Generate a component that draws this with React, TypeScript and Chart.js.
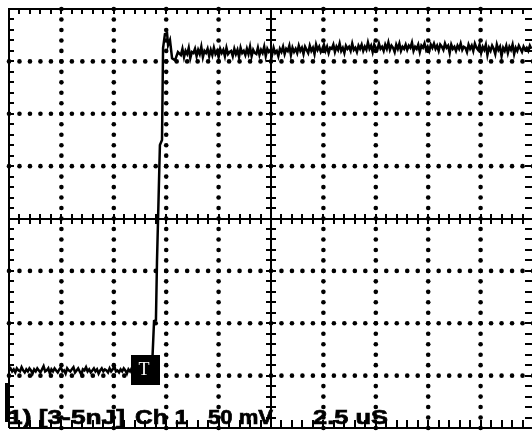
import React, { useEffect, useRef } from "react";
import { Chart, registerables } from "chart.js";

Chart.register(...registerables);

// ---- axis setup (oscilloscope: 2.5 uS/div, 50 mV/div) ----
const X_MIN_US = 0;
const X_MAX_US = 25;
const X_DIV_US = 2.5;
const Y_MIN_MV = -200;
const Y_MAX_MV = 200;
const Y_DIV_MV = 50;
const MINOR_PER_DIV = 5;

// ---- trace data ----
const sampleStepUs = 0.075;
const baselineStartUs = 0;
const baselineMv = [
  -145, -143, -146, -144, -147, -143, -145, -146, -142, -145, -147, -144, -146, -143, -145, -148, -144, -146,
  -143, -145, -147, -144, -141, -146, -145, -143, -148, -144, -146, -143, -145, -147, -144, -142, -146, -145,
  -148, -143, -145, -146, -144, -142, -147, -145, -143, -146, -149, -144, -145, -142, -146, -144, -147, -145,
  -143, -146, -144, -148, -145, -143, -146, -144, -145, -147, -143, -146, -144, -141, -146, -145, -147, -144,
  -146, -143, -145, -148, -144, -146, -143, -145, -147, -144, -145, -146, -144, -147, -145, -143, -146, -145, -144,
];
const edgeTimesUs = [6.82, 6.92, 7.01, 7.06, 7.2, 7.3, 7.35, 7.44, 7.54, 7.59, 7.68, 7.78, 7.92, 8.06];
const edgeMv = [-144.6, -97.8, -96.9, -41.5, 70.1, 74.9, 162.7, 176, 177, 165.5, 170.3, 153, 151, 158.9];
const plateauStartUs = 8.2;
const plateauMv = [
  156, 162, 154, 160, 157, 163, 153, 159, 158, 162, 155, 161, 157, 164, 154, 160,
  158, 162, 155, 161, 156, 163, 157, 160, 154, 162, 158, 161, 155, 163, 157, 159,
  160, 155, 162, 157, 161, 154, 163, 158, 160, 156, 162, 157, 164, 155, 161, 158,
  157, 163, 156, 161, 158, 164, 155, 162, 159, 161, 156, 163, 158, 160, 155, 162,
  159, 164, 157, 162, 160, 165, 156, 163, 159, 162, 158, 165, 160, 163, 157, 164,
  161, 158, 165, 160, 163, 157, 166, 161, 164, 159, 162, 166, 160, 164, 158, 163,
  162, 166, 159, 164, 161, 167, 160, 163, 158, 165, 162, 164, 160, 167, 161, 163,
  159, 165, 162, 166, 160, 164, 161, 168, 162, 165, 159, 166, 163, 161, 167, 162,
  164, 160, 166, 162, 168, 161, 165, 163, 159, 166, 162, 167, 160, 164, 162, 166,
  161, 165, 163, 168, 160, 164, 162, 166, 159, 165, 163, 167, 161, 164, 160, 166,
  163, 167, 162, 165, 160, 166, 164, 161, 167, 163, 165, 158, 166, 162, 164, 160,
  165, 162, 167, 161, 164, 163, 159, 166, 162, 165, 160, 167, 163, 161, 166, 158,
  164, 161, 166, 156, 163, 160, 165, 162, 157, 166, 161, 164, 155, 163, 160, 165,
  158, 164, 161, 166, 157, 163, 160, 165, 162, 159, 164, 161, 163, 160, 165, 162,
];

// ---- markers & labels ----
const triggerUs = 6.49;
const triggerMv = -145;
const groundMarkerMv = [-157, -194];
const labelParts = ["1) [3-5nJ]", "Ch 1", "50 mV", "2.5 uS"];
// layout of the label parts: [left px, width px]
const labelLayout = [
  [8, 117],
  [135, 53],
  [208, 65],
  [313, 75],
];

function buildTrace() {
  const pts: { x: number; y: number }[] = [];
  baselineMv.forEach((v, i) => pts.push({ x: baselineStartUs + i * sampleStepUs, y: v }));
  edgeTimesUs.forEach((t, i) => pts.push({ x: t, y: edgeMv[i] }));
  plateauMv.forEach((v, i) => pts.push({ x: plateauStartUs + i * sampleStepUs, y: v }));
  return pts;
}

const near = (a: number, b: number) => Math.abs(a - b) < 1e-6;

const graticule = {
  id: "graticule",
  beforeDatasetsDraw(chart: any) {
    const { ctx, chartArea: a, scales } = chart;
    const xs = scales.x;
    const ys = scales.y;
    const L = Math.round(a.left);
    const R = Math.round(a.right);
    const T = Math.round(a.top);
    const B = Math.round(a.bottom);
    const xMid = (X_MIN_US + X_MAX_US) / 2;
    const xc = Math.round(xs.getPixelForValue(xMid));
    const yc = Math.round(ys.getPixelForValue(0));
    const nx = ((X_MAX_US - X_MIN_US) / X_DIV_US) * MINOR_PER_DIV;
    const ny = ((Y_MAX_MV - Y_MIN_MV) / Y_DIV_MV) * MINOR_PER_DIV;
    const minorX: number[] = [];
    const minorY: number[] = [];
    for (let i = 0; i <= nx; i++) minorX.push(xs.getPixelForValue(X_MIN_US + (i * X_DIV_US) / MINOR_PER_DIV));
    for (let j = 0; j <= ny; j++) minorY.push(ys.getPixelForValue(Y_MIN_MV + (j * Y_DIV_MV) / MINOR_PER_DIV));

    ctx.save();
    ctx.fillStyle = "#000";
    // dotted major grid lines, taken from the scales' ticks
    xs.ticks.forEach((t: any) => {
      if (near(t.value, X_MIN_US) || near(t.value, X_MAX_US) || near(t.value, xMid)) return;
      const px = xs.getPixelForValue(t.value);
      minorY.forEach((py) => {
        ctx.beginPath();
        ctx.arc(px, py, 2.3, 0, Math.PI * 2);
        ctx.fill();
      });
    });
    ys.ticks.forEach((t: any) => {
      if (near(t.value, Y_MIN_MV) || near(t.value, Y_MAX_MV) || near(t.value, 0)) return;
      const py = ys.getPixelForValue(t.value);
      minorX.forEach((px) => {
        ctx.beginPath();
        ctx.arc(px, py, 2.3, 0, Math.PI * 2);
        ctx.fill();
      });
    });

    ctx.strokeStyle = "#000";
    ctx.lineWidth = 2;
    ctx.lineCap = "butt";
    // frame
    ctx.beginPath();
    ctx.moveTo(L, B);
    ctx.lineTo(L, T);
    ctx.lineTo(R, T);
    ctx.lineTo(R, B);
    ctx.lineTo(L, B);
    ctx.stroke();
    // minor ticks on the frame and on the centre crosshair
    ctx.beginPath();
    minorX.forEach((p) => {
      const px = Math.round(p);
      ctx.moveTo(px, T);
      ctx.lineTo(px, T + 5);
      ctx.moveTo(px, B);
      ctx.lineTo(px, B - 8);
      ctx.moveTo(px, yc - 5);
      ctx.lineTo(px, yc + 5);
    });
    minorY.forEach((p) => {
      const py = Math.round(p);
      ctx.moveTo(L, py);
      ctx.lineTo(L + 5, py);
      ctx.moveTo(R, py);
      ctx.lineTo(R - 8, py);
      ctx.moveTo(xc - 5, py);
      ctx.lineTo(xc + 5, py);
    });
    ctx.stroke();
    // centre crosshair
    ctx.beginPath();
    ctx.moveTo(xc, T);
    ctx.lineTo(xc, B);
    ctx.moveTo(L, yc);
    ctx.lineTo(R, yc);
    ctx.stroke();
    ctx.restore();
  },
  afterDatasetsDraw(chart: any) {
    const { ctx, chartArea: a, scales } = chart;
    const xs = scales.x;
    const ys = scales.y;
    ctx.save();
    // trigger marker
    const tx = xs.getPixelForValue(triggerUs);
    const ty = ys.getPixelForValue(triggerMv);
    ctx.fillStyle = "#000";
    ctx.fillRect(Math.round(tx - 14.5), Math.round(ty - 15), 29, 30);
    ctx.fillStyle = "#fff";
    ctx.font = "18px 'Liberation Serif', serif";
    ctx.textAlign = "center";
    ctx.textBaseline = "middle";
    ctx.fillText("T", tx - 1, ty);
    // ground marker
    const g1 = ys.getPixelForValue(groundMarkerMv[0]);
    const g2 = ys.getPixelForValue(groundMarkerMv[1]);
    ctx.fillStyle = "#000";
    ctx.fillRect(Math.round(a.left) - 4, Math.round(g1), 3, Math.round(g2 - g1));
    // bottom labels
    ctx.font = "bold 21px 'Liberation Sans', Arial, sans-serif";
    ctx.textAlign = "left";
    ctx.textBaseline = "alphabetic";
    ctx.strokeStyle = "#000";
    ctx.lineWidth = 0.7;
    labelParts.forEach((t, i) => {
      const [lx, lw] = labelLayout[i];
      const w = ctx.measureText(t).width;
      ctx.save();
      ctx.translate(lx, 424);
      ctx.scale(lw / w, 1);
      ctx.fillText(t, 0, 0);
      ctx.strokeText(t, 0, 0);
      ctx.restore();
    });
    ctx.restore();
  },
};

export default function App() {
  const ref = useRef<HTMLCanvasElement | null>(null);
  useEffect(() => {
    if (!ref.current) return;
    const chart = new Chart(ref.current, {
      type: "line",
      data: {
        datasets: [
          {
            data: buildTrace(),
            borderColor: "#000",
            borderWidth: 2.5,
            pointRadius: 0,
            tension: 0,
            fill: false,
          },
        ],
      },
      options: {
        responsive: false,
        maintainAspectRatio: false,
        animation: false,
        events: [],
        layout: { padding: { left: 9, top: 9, right: 1, bottom: 4 } },
        plugins: { legend: { display: false }, tooltip: { enabled: false } },
        scales: {
          x: {
            type: "linear",
            min: X_MIN_US,
            max: X_MAX_US,
            ticks: { display: false, stepSize: X_DIV_US },
            grid: { display: false, drawTicks: false },
            border: { display: false },
          },
          y: {
            type: "linear",
            min: Y_MIN_MV,
            max: Y_MAX_MV,
            ticks: { display: false, stepSize: Y_DIV_MV },
            grid: { display: false, drawTicks: false },
            border: { display: false },
          },
        },
      },
      plugins: [graticule],
    });
    return () => chart.destroy();
  }, []);
  return (
    <div
      style={{
        position: "fixed",
        left: 0,
        top: 0,
        width: 532,
        height: 432,
        overflow: "hidden",
        background: "#fff",
      }}
    >
      <canvas ref={ref} width={534} height={432} style={{ display: "block" }} />
    </div>
  );
}
